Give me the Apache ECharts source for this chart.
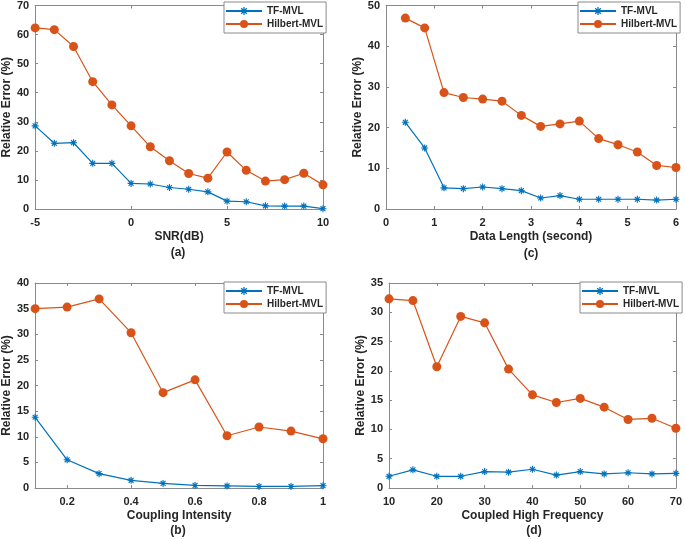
<!DOCTYPE html>
<html>
<head>
<meta charset="utf-8">
<script src="https://cdn.jsdelivr.net/npm/echarts@6/dist/echarts.min.js"></script>
<style>html,body{margin:0;padding:0;background:#fff;}#c{width:685px;height:539px;}</style>
</head>
<body>
<div id="c"></div>
<script>
// Panel (a): SNR
const snrX = [-5,-4,-3,-2,-1,0,1,2,3,4,5,6,7,8,9,10];
const snrTF = [28.6,22.6,22.8,15.7,15.7,8.8,8.6,7.4,6.8,5.9,2.7,2.5,1.1,1.0,1.0,0.1];
const snrHil = [62.3,61.7,55.9,43.8,35.8,28.6,21.4,16.6,12.2,10.6,19.6,13.3,9.6,10.1,12.3,8.3];
// Panel (c): Data length
const lenX = [0.4,0.8,1.2,1.6,2.0,2.4,2.8,3.2,3.6,4.0,4.4,4.8,5.2,5.6,6.0];
const lenTF = [21.3,15.0,5.2,5.0,5.4,5.0,4.5,2.7,3.3,2.4,2.4,2.4,2.4,2.2,2.4];
const lenHil = [46.9,44.5,28.6,27.4,27.0,26.5,23.0,20.3,20.9,21.6,17.3,15.8,14.0,10.7,10.2];
// Panel (b): Coupling intensity
const coupX = [0.1,0.2,0.3,0.4,0.5,0.6,0.7,0.8,0.9,1.0];
const coupTF = [13.8,5.5,2.8,1.5,0.9,0.5,0.4,0.3,0.3,0.45];
const coupHil = [35.0,35.3,36.9,30.3,18.6,21.1,10.2,11.9,11.1,9.6];
// Panel (d): Coupled high frequency
const freqX = [10,15,20,25,30,35,40,45,50,55,60,65,70];
const freqTF = [2.0,3.1,2.0,2.0,2.8,2.7,3.2,2.2,2.8,2.4,2.6,2.4,2.5];
const freqHil = [32.3,32.0,20.7,29.3,28.2,20.3,15.9,14.6,15.3,13.8,11.7,11.9,10.2];

const xNames = ['SNR(dB)', 'Data Length (second)', 'Coupling Intensity', 'Coupled High Frequency'];
const captions = ['(a)', '(c)', '(b)', '(d)'];
const yName = 'Relative Error (%)';
const seriesNames = ['TF-MVL', 'Hilbert-MVL'];

const BLUE = '#0072BD', ORANGE = '#D95319';
const AX = '#8a8a8a', TXT = '#262626';
const FONT = 'Liberation Sans, Arial, sans-serif';
const STAR = 'path://M-5 -0.8L5 -0.8L5 0.8L-5 0.8Z M-0.8 -5L0.8 -5L0.8 5L-0.8 5Z M-2.93 -4.07L4.07 2.93L2.93 4.07L-4.07 -2.93Z M2.93 -4.07L4.07 -2.93L-2.93 4.07L-4.07 2.93Z';

const panels = [
  {x: snrX, tf: snrTF, hil: snrHil, grid: {left: 33, top: 5, width: 290, height: 204},
   xmin: -5, xmax: 10, xint: 5, ymax: 70, yint: 10, yGap: 18, legend: {left: 224, top: 2}, cap: [178, 253]},
  {x: lenX, tf: lenTF, hil: lenHil, grid: {left: 386, top: 5, width: 290, height: 204},
   xmin: 0, xmax: 6, xint: 1, ymax: 50, yint: 10, yGap: 22, legend: {left: 578, top: 2}, cap: [531, 254]},
  {x: coupX, tf: coupTF, hil: coupHil, grid: {left: 33, top: 283, width: 290, height: 205},
   xmin: 0.1, xmax: 1, custom: [0.2,0.4,0.6,0.8,1], ymax: 40, yint: 5, yGap: 19, legend: {left: 224, top: 282}, cap: [178, 531]},
  {x: freqX, tf: freqTF, hil: freqHil, grid: {left: 389, top: 283, width: 290, height: 205},
   xmin: 10, xmax: 70, xint: 10, ymax: 35, yint: 5, yGap: 21, legend: {left: 580, top: 282}, cap: [534, 531]}
];

const grids = [], xAxes = [], yAxes = [], series = [], legends = [], graphics = [];
const labelStyle = {color: TXT, fontWeight: 'bold', fontSize: 11, fontFamily: FONT};
panels.forEach((p, i) => {
  grids.push(Object.assign({containLabel: false}, p.grid));
  const xBase = {
    type: 'value', gridIndex: i, min: p.xmin, max: p.xmax,
    axisLine: {show: true, onZero: false, lineStyle: {color: AX, width: 1}},
    axisTick: {show: true, inside: true, length: 3, lineStyle: {color: AX}},
    splitLine: {show: false}
  };
  if (p.xint) xBase.interval = p.xint;
  const xb = JSON.parse(JSON.stringify(xBase));
  xb.position = 'bottom';
  xb.axisLabel = Object.assign({margin: 8}, labelStyle);
  xb.name = xNames[i];
  xb.nameLocation = 'middle';
  xb.nameGap = 22;
  xb.nameTextStyle = {color: TXT, fontWeight: 'bold', fontSize: 12, fontFamily: FONT, verticalAlign: 'top'};
  const xt = JSON.parse(JSON.stringify(xBase));
  xt.position = 'top';
  xt.axisLabel = {show: false};
  if (p.custom) {
    xb.axisLabel.customValues = p.custom;
    xb.axisTick.customValues = p.custom;
    xt.axisTick.customValues = p.custom;
  }
  xAxes.push(xb, xt);
  const yBase = {
    type: 'value', gridIndex: i, min: 0, max: p.ymax, interval: p.yint,
    axisLine: {show: true, onZero: false, lineStyle: {color: AX, width: 1}},
    axisTick: {show: true, inside: true, length: 3, lineStyle: {color: AX}},
    splitLine: {show: false}
  };
  const yl = JSON.parse(JSON.stringify(yBase));
  yl.position = 'left';
  yl.axisLabel = Object.assign({margin: 6}, labelStyle);
  yl.name = yName;
  yl.nameLocation = 'middle';
  yl.nameGap = p.yGap;
  yl.nameRotate = 90;
  yl.nameTextStyle = {color: TXT, fontWeight: 'bold', fontSize: 12, fontFamily: FONT};
  const yr = JSON.parse(JSON.stringify(yBase));
  yr.position = 'right';
  yr.axisLabel = {show: false};
  yAxes.push(yl, yr);

  series.push({
    name: seriesNames[0], type: 'line', xAxisIndex: 2 * i, yAxisIndex: 2 * i,
    data: p.x.map((v, k) => [v, p.tf[k]]),
    symbol: STAR, symbolSize: 7, showAllSymbol: true,
    lineStyle: {color: BLUE, width: 1.2}, itemStyle: {color: BLUE}, z: 3, animation: false
  });
  series.push({
    name: seriesNames[1], type: 'line', xAxisIndex: 2 * i, yAxisIndex: 2 * i,
    data: p.x.map((v, k) => [v, p.hil[k]]),
    symbol: 'circle', symbolSize: 9, showAllSymbol: true,
    lineStyle: {color: ORANGE, width: 1.2}, itemStyle: {color: ORANGE}, z: 2, animation: false
  });
  legends.push({
    data: seriesNames, orient: 'vertical', left: p.legend.left, top: p.legend.top,
    itemWidth: 36, itemHeight: 10, itemGap: 3, padding: [4, 3, 4, 1],
    borderColor: AX, borderWidth: 1, borderRadius: 0, backgroundColor: '#fff',
    textStyle: {color: TXT, fontWeight: 'bold', fontSize: 10, fontFamily: FONT},
    selectedMode: false
  });
  graphics.push({
    type: 'text', x: p.cap[0], y: p.cap[1],
    style: {text: captions[i], fill: TXT, font: 'bold 12px ' + FONT, textAlign: 'center', textVerticalAlign: 'middle'}
  });
});

const chart = echarts.init(document.getElementById('c'), null, {renderer: 'canvas'});
chart.setOption({
  animation: false,
  backgroundColor: '#fff',
  grid: grids, xAxis: xAxes, yAxis: yAxes, series: series, legend: legends, graphic: graphics
});
</script>
</body>
</html>
